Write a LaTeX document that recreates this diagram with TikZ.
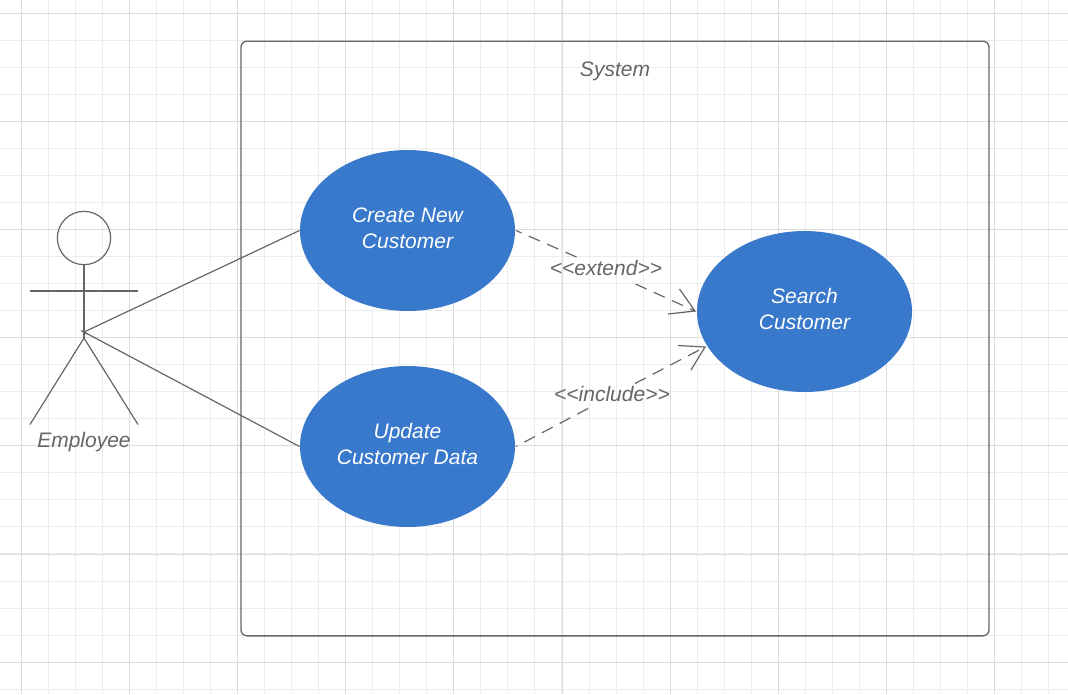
\documentclass[tikz,border=0pt]{standalone}
\usepackage{fontspec}
\setmainfont{Liberation Sans}
\usetikzlibrary{shapes.geometric,arrows.meta}
\definecolor{gridmin}{HTML}{ECECEC}
\definecolor{gridmaj}{HTML}{DCDCDC}
\definecolor{ink}{HTML}{666666}
\definecolor{ucblue}{HTML}{3979CB}
\tikzset{
  x=0.75pt,y=-0.75pt,
  lbl/.style={font=\fontsize{15.75pt}{19.5pt}\selectfont\itshape,text=ink,inner sep=0pt,align=center},
  usecase/.style={ellipse,fill=ucblue,minimum width=161.25pt,minimum height=120.75pt,inner sep=0pt,align=center,text=white,text depth=3.5pt,font=\fontsize{15.75pt}{19.5pt}\selectfont\itshape},
  assoc/.style={draw=ink,line width=0.9pt},
  dep/.style={draw=ink,line width=0.9pt,dash pattern=on 9pt off 6pt},
  open/.style={draw=ink,line width=0.9pt},
  figure/.style={draw=ink,line width=0.9pt},
  tag/.style={lbl},
  gridfine/.style={gridmin,line width=0.7pt},
  gridbold/.style={gridmaj,line width=0.7pt}
}
\begin{document}
\begin{tikzpicture}
\useasboundingbox (0,0) rectangle (1068,694);
\fill[white] (0,0) rectangle (1068,694);
\foreach \i in {-1,...,38}{
  \pgfmathsetmacro{\p}{floor(21.5+27.025*\i)+0.42}
  \draw[gridfine] (\p,0) -- (\p,694);
}
\foreach \i in {0,...,25}{
  \pgfmathsetmacro{\p}{floor(13.5+27.025*\i)+0.42}
  \draw[gridfine] (0,\p) -- (1068,\p);
}
\foreach \i in {0,...,9}{
  \pgfmathsetmacro{\p}{floor(21.5+108.1*\i)+0.42}
  \draw[gridbold] (\p,0) -- (\p,694);
}
\foreach \i in {0,...,6}{
  \pgfmathsetmacro{\p}{floor(13.5+108.1*\i)+0.42}
  \draw[gridbold] (0,\p) -- (1068,\p);
}
\node[draw=ink,line width=1pt,rounded corners=4.5pt,minimum width=561pt,minimum height=446pt,inner sep=0pt] (sys) at (615,338.5) {};
\node[lbl] (systitle) at (615,71) {System};
\node[usecase] (create) at (407.5,230.5) {Create New\\Customer};
\node[usecase] (update) at (407.5,446.5) {Update\\Customer Data};
\node[usecase] (search) at (804.5,311.5) {Search\\Customer};
% actor
\node[draw=ink,circle,line width=0.9pt,minimum size=40pt,inner sep=0pt] (head) at (84,238) {};
\coordinate (hip) at (84,338);
\coordinate (waist) at (84,332);
\coordinate (armL) at (30,291);
\coordinate (armR) at (138,291);
\coordinate (footL) at (30,424.5);
\coordinate (footR) at (138,424.5);
\draw[figure] (head.south) -- (hip);
\draw[figure] (armL) -- (armR);
\draw[figure] (footL) -- (hip) -- (footR);
\node[lbl] (employee) at (84,442) {Employee};
% associations
\coordinate (createW) at (299.5,230.5);
\coordinate (updateW) at (299.5,446.5);
\coordinate (createE) at (516,230.5);
\coordinate (updateE) at (516,446.5);
\coordinate (searchA) at (695,311);
\coordinate (searchB) at (705,347);
\draw[assoc] (waist) -- (createW);
\draw[assoc] (waist) -- (updateW);
\draw[assoc] (81,330.5) -- (87,334);
% dependency labels
\node[tag] (extend) at (606,268) {<{}<extend>{}>};
\node[tag] (include) at (612,394) {<{}<include>{}>};
\coordinate (extendIn) at (576.5,257);
\coordinate (extendOut) at (635.5,284);
\coordinate (includeIn) at (588,408.5);
\coordinate (includeOut) at (635,383.5);
% dependencies
\draw[dep] (extendIn) -- (createE);
\draw[dep] (extendOut) -- (searchA);
\draw[dep] (includeIn) -- (updateE);
\draw[dep] (includeOut) -- (searchB);
\draw[open] (679.5,289) -- (searchA) -- (668,314);
\draw[open] (678,345.5) -- (searchB) -- (691,370);
\end{tikzpicture}
\end{document}
